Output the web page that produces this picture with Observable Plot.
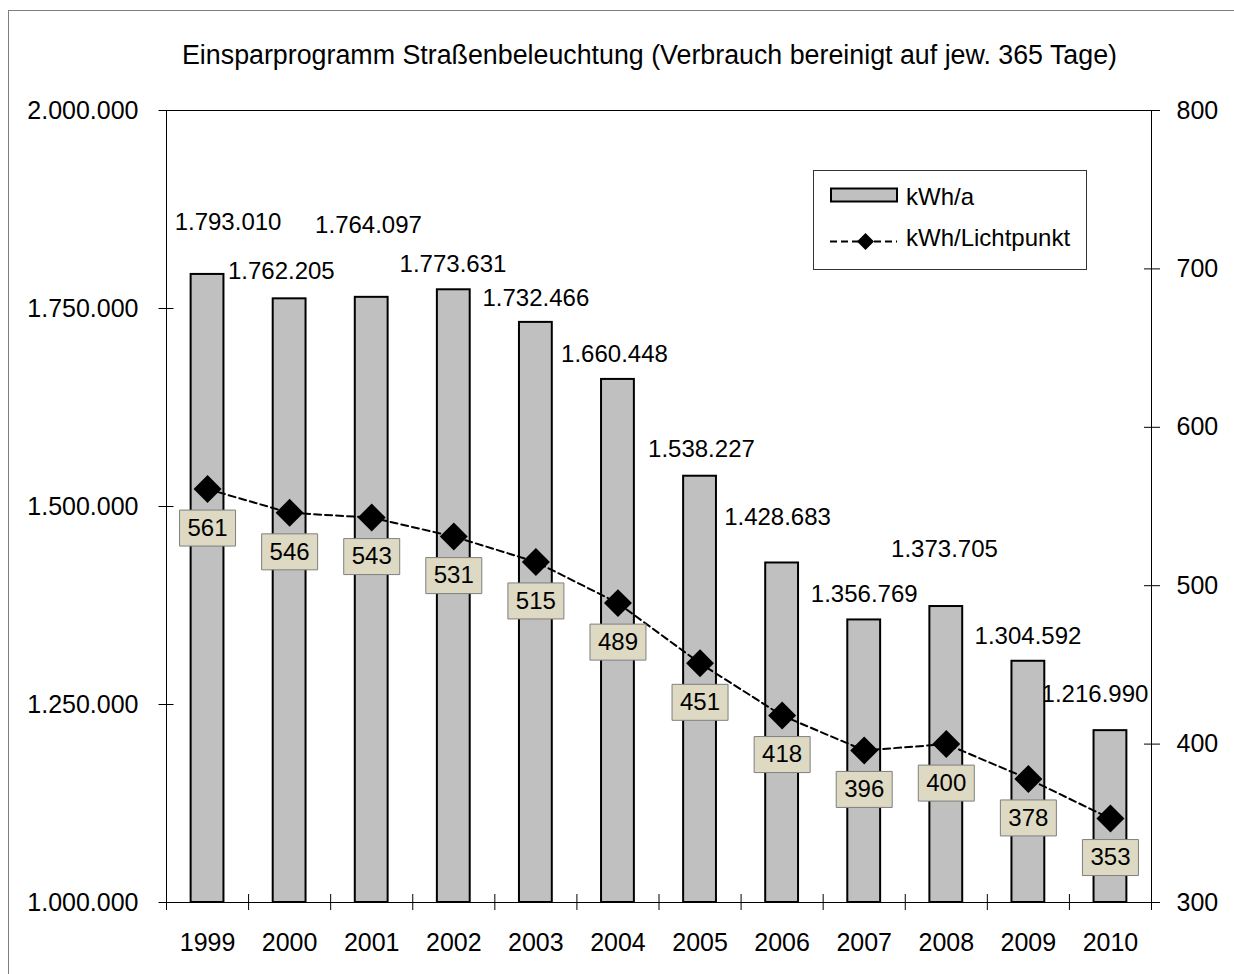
<!DOCTYPE html>
<html>
<head>
<meta charset="utf-8">
<script src="https://cdn.jsdelivr.net/npm/d3@7"></script>
<script src="https://cdn.jsdelivr.net/npm/@observablehq/plot@0.6"></script>
<style>
  html, body { margin: 0; padding: 0; background: #fff; overflow: hidden; }
  body { font-family: Arial, "Liberation Sans", sans-serif; }
  #wrap { position: relative; width: 1234px; height: 974px; }
  #chart { position: absolute; left: 0; top: 0; }
  #border { position: absolute; left: 8px; top: 10px; width: 1400px; height: 1200px; border: 1px solid #7f7f7f; pointer-events: none; }
  #title { position: absolute; left: 0; top: 40px; width: 1299px; text-align: center; font-size: 26.8px; line-height: 30px; color: #000; white-space: nowrap; }
  #legend { position: absolute; left: 813px; top: 170px; }
</style>
</head>
<body>
<div id="wrap">
  <div id="chart"></div>
  <div id="title">Einsparprogramm Straßenbeleuchtung (Verbrauch bereinigt auf jew. 365 Tage)</div>
  <svg id="legend" width="275" height="101" font-family="Arial, 'Liberation Sans', sans-serif" font-size="24">
    <rect x="0.5" y="0.5" width="273" height="99" fill="#fff" stroke="#333" stroke-width="1"></rect>
    <rect x="18" y="18.5" width="66" height="13" fill="#c0c0c0" stroke="#000" stroke-width="2"></rect>
    <text x="93" y="26" dominant-baseline="central" fill="#000">kWh/a</text>
    <line x1="17" x2="84" y1="71.5" y2="71.5" stroke="#000" stroke-width="2" stroke-dasharray="7,4"></line>
    <path d="M52.5,63 L61,71.5 L52.5,80 L44,71.5 Z" fill="#000"></path>
    <text x="93" y="67.5" dominant-baseline="central" fill="#000">kWh/Lichtpunkt</text>
  </svg>
  <div id="border"></div>
</div>
<script>
// ---- data ----
const years = ["1999","2000","2001","2002","2003","2004","2005","2006","2007","2008","2009","2010"];
const kwhPerYear = [1793010, 1762205, 1764097, 1773631, 1732466, 1660448, 1538227, 1428683, 1356769, 1373705, 1304592, 1216990];
const kwhPerLightPoint = [561, 546, 543, 531, 515, 489, 451, 418, 396, 400, 378, 353];
const leftTicks = [1000000, 1250000, 1500000, 1750000, 2000000];
const rightTicks = [300, 400, 500, 600, 700, 800];

// ---- layout (label placement as in the original, in px relative to bar top) ----
const valueLabelOffsets = [
  [20.5, -52.5], [-8.3, -27.8], [-3.2, -71.8], [-0.8, -25.3], [0, -24], [-3.5, -25],
  [1.4, -26.7], [-4.6, -45.5], [0, -25.4], [-1.8, -57], [-0.4, -24.8], [-15.5, -36]
];

const de = d3.formatLocale({decimal: ",", thousands: ".", grouping: [3], currency: ["", " €"]});
const fmt = de.format(",d");

const L = [1000000, 2000000], R = [300, 800];
const toLeft = v => L[0] + (v - R[0]) / (R[1] - R[0]) * (L[1] - L[0]);
const fromLeft = v => R[0] + (v - L[0]) / (L[1] - L[0]) * (R[1] - R[0]);

const data = years.map((year, i) => ({year, i, kwh: kwhPerYear[i], lp: kwhPerLightPoint[i]}));
const cx = d => d.i + 0.5;
const ly = d => toLeft(d.lp);

const boxSymbol = {
  draw(ctx) {
    ctx.moveTo(-28, -18); ctx.lineTo(28, -18); ctx.lineTo(28, 18); ctx.lineTo(-28, 18); ctx.closePath();
  }
};

const chart = Plot.plot({
  width: 1234,
  height: 974,
  marginLeft: 166,
  marginRight: 83,
  marginTop: 110,
  marginBottom: 72,
  x: {domain: [0, years.length], label: null},
  y: {domain: L, label: null},
  style: {fontFamily: "Arial, 'Liberation Sans', sans-serif", fontSize: "25px", color: "black", background: "transparent", overflow: "visible"},
  marks: [
    ...data.map((d, k) => Plot.text([d], {
      x: cx, y: "kwh", text: r => fmt(r.kwh),
      dx: valueLabelOffsets[k][0], dy: valueLabelOffsets[k][1],
      fontSize: 24, fill: "black"
    })),
    Plot.rectY(data, {x1: d => d.i + 0.3, x2: d => d.i + 0.7, y1: L[0], y2: "kwh", fill: "#c0c0c0", stroke: "black", strokeWidth: 2}),
    Plot.frame({stroke: "black", strokeWidth: 1}),
    // left axis
    Plot.axisY(leftTicks, {anchor: "left", label: null, tickSize: 15, dx: 7.5, tickFormat: () => ""}),
    Plot.axisY(leftTicks, {anchor: "left", label: null, tickSize: 0, tickPadding: 28, tickFormat: fmt, fontSize: 25}),
    // right axis
    Plot.axisY(rightTicks.map(toLeft), {anchor: "right", label: null, tickSize: 16, dx: -8, tickFormat: () => ""}),
    Plot.axisY(rightTicks.map(toLeft), {anchor: "right", label: null, tickSize: 0, tickPadding: 25, tickFormat: v => String(Math.round(fromLeft(v))), fontSize: 25}),
    // x axis
    Plot.axisX(d3.range(years.length + 1), {label: null, tickSize: 16, dy: -8, tickFormat: () => ""}),
    Plot.axisX(data.map(cx), {label: null, tickSize: 0, tickPadding: 31, tickFormat: v => years[Math.floor(v)], fontSize: 25}),
    // kWh per light point
    Plot.line(data, {x: cx, y: ly, stroke: "black", strokeWidth: 2, strokeDasharray: "7,4"}),
    Plot.dot(data, {x: cx, y: ly, symbol: "diamond2", r: 12.6, fill: "black", stroke: null}),
    Plot.dot(data, {x: cx, y: ly, symbol: boxSymbol, dy: 39, fill: "#ddd9c3", stroke: "#7f7f7f", strokeWidth: 1}),
    Plot.text(data, {x: cx, y: ly, text: d => String(d.lp), dy: 39, fontSize: 24, fill: "black"})
  ]
});
document.getElementById("chart").appendChild(chart);
</script>
</body>
</html>
